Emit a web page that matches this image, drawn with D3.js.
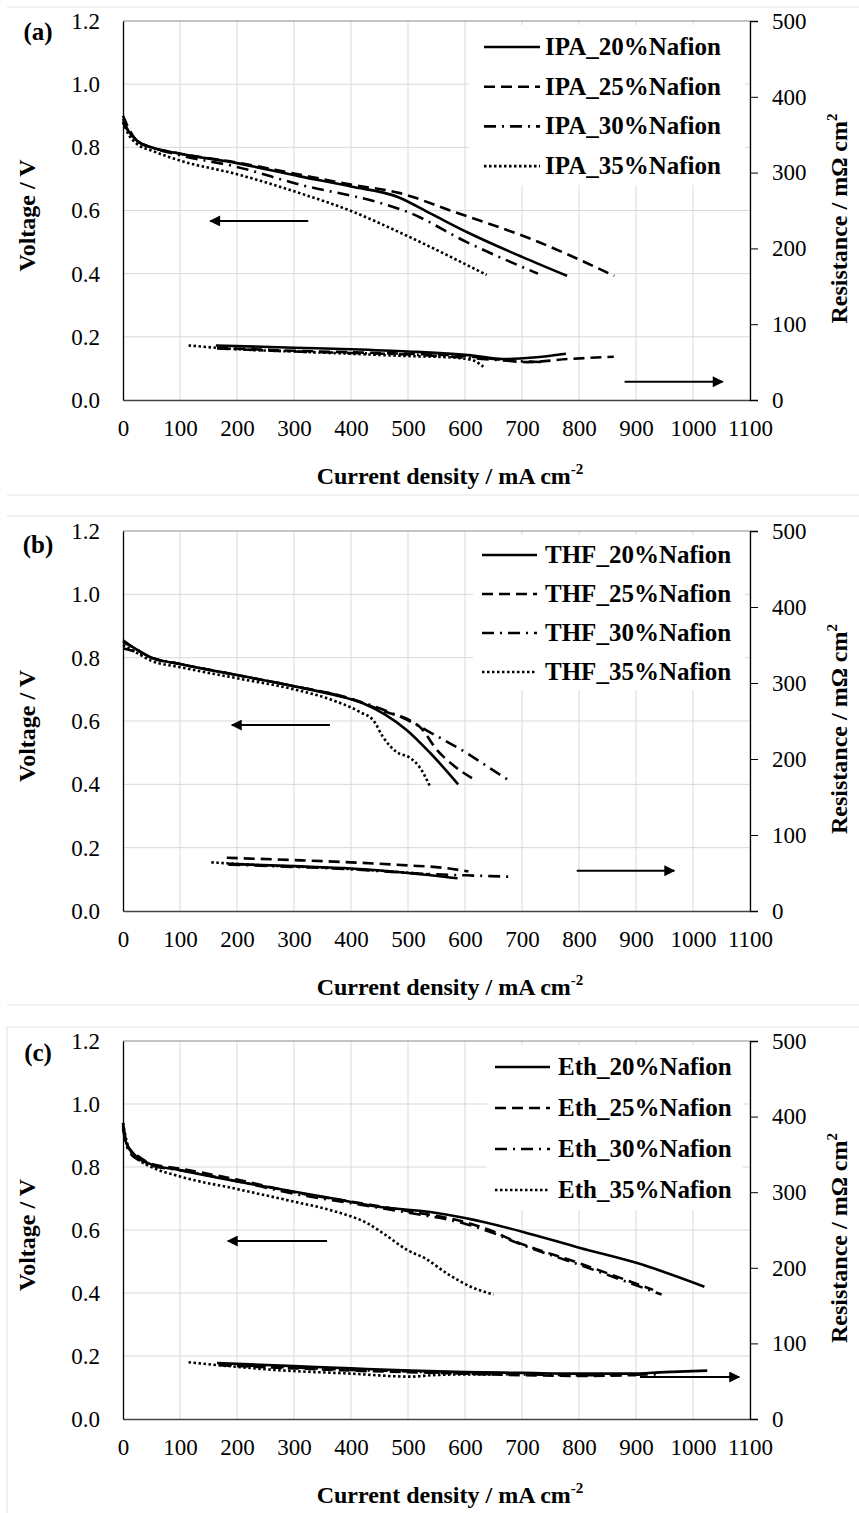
<!DOCTYPE html>
<html>
<head>
<meta charset="utf-8">
<script src="https://cdn.jsdelivr.net/npm/d3@7"></script>
<style>
  body { margin: 0; background: #fff; }
  svg { display: block; }
  text { font-family: "Liberation Serif", "Times New Roman", serif; fill: #000; }
</style>
</head>
<body>
<svg id="chart" width="859" height="1513"></svg>
<script>
// ---- tick labels ----
const xTicks = [0, 100, 200, 300, 400, 500, 600, 700, 800, 900, 1000, 1100];
const vTicks = [0, 0.2, 0.4, 0.6, 0.8, 1.0, 1.2];
const rTicks = [0, 100, 200, 300, 400, 500];
const nafionLevels = ["20%Nafion", "25%Nafion", "30%Nafion", "35%Nafion"];
const dashStyles = [null, "11,6", "12,6,2,6", "2.5,2.5"];

// ---- (a) IPA : voltage [mA cm-2, V] and resistance [mA cm-2, mOhm cm2] ----
const ipa20V = [[0,0.88],[10,0.85],[25,0.82],[50,0.80],[100,0.78],[200,0.75],[310,0.708],[400,0.676],[482,0.643],[540,0.59],[603,0.532],[700,0.453],[779,0.393]];
const ipa25V = [[0,0.90],[10,0.86],[25,0.82],[50,0.80],[100,0.78],[200,0.752],[300,0.717],[400,0.682],[486,0.655],[574,0.60],[720,0.507],[862,0.393]];
const ipa30V = [[0,0.89],[10,0.85],[25,0.82],[50,0.80],[100,0.775],[200,0.738],[310,0.682],[445,0.627],[500,0.595],[603,0.50],[728,0.40]];
const ipa35V = [[0,0.88],[10,0.84],[25,0.81],[50,0.79],[100,0.758],[200,0.715],[310,0.655],[398,0.60],[498,0.52],[638,0.396]];
const ipa20R = [[163,72],[300,69],[400,67],[500,64],[620,58],[665,54],[720,56],[777,61]];
const ipa25R = [[165,69],[300,65],[400,63],[500,61],[600,58],[650,54],[710,50],[780,54],[861,57]];
const ipa30R = [[165,68],[300,64],[400,62],[500,60],[600,56],[650,53],[700,51],[735,50]];
const ipa35R = [[115,72],[200,67],[300,64],[400,61],[500,58],[580,56],[615,52],[632,44]];

// ---- (b) THF ----
const thf20V = [[0,0.855],[20,0.83],[50,0.80],[100,0.78],[200,0.745],[300,0.71],[363,0.685],[421,0.656],[460,0.62],[498,0.571],[539,0.499],[588,0.40]];
const thf25V = [[0,0.85],[20,0.83],[50,0.80],[100,0.78],[200,0.745],[300,0.71],[400,0.67],[451,0.635],[521,0.581],[551,0.508],[579,0.461],[617,0.414]];
const thf30V = [[0,0.83],[20,0.82],[50,0.80],[100,0.78],[200,0.745],[300,0.71],[400,0.67],[450,0.64],[491,0.61],[547,0.556],[600,0.502],[649,0.445],[682,0.407]];
const thf35V = [[0,0.84],[20,0.82],[50,0.79],[100,0.77],[200,0.735],[300,0.70],[369,0.665],[416,0.628],[440,0.60],[456,0.55],[480,0.502],[504,0.483],[520,0.455],[539,0.392]];
const thf20R = [[185,62],[300,59],[400,56],[500,50],[587,43]];
const thf25R = [[182,70],[300,67],[400,64],[500,60],[560,57],[606,52]];
const thf30R = [[185,61],[300,58],[400,55],[500,50],[560,48],[600,47],[683,45]];
const thf35R = [[155,64],[250,60],[350,57],[450,53],[540,48]];

// ---- (c) Ethanol ----
const eth20V = [[0,0.94],[5,0.88],[15,0.85],[47,0.81],[100,0.79],[252,0.737],[369,0.70],[451,0.673],[539,0.657],[600,0.638],[702,0.594],[802,0.543],[902,0.495],[1020,0.42]];
const eth25V = [[0,0.93],[10,0.86],[30,0.83],[50,0.81],[100,0.795],[200,0.76],[300,0.72],[400,0.69],[500,0.66],[600,0.625],[650,0.595],[680,0.57],[800,0.495],[930,0.41]];
const eth30V = [[0,0.92],[10,0.85],[30,0.82],[50,0.805],[100,0.79],[200,0.755],[300,0.715],[400,0.685],[500,0.655],[600,0.62],[650,0.59],[690,0.56],[800,0.49],[945,0.395]];
const eth35V = [[0,0.94],[10,0.86],[30,0.82],[50,0.80],[100,0.77],[200,0.73],[300,0.69],[370,0.66],[430,0.62],[460,0.585],[500,0.535],[530,0.51],[570,0.46],[610,0.42],[650,0.395]];
const eth20R = [[165,74],[300,70],[400,67],[505,64],[600,62],[700,61],[800,60],[890,60],[950,62],[1025,64]];
const eth25R = [[170,71],[300,67],[400,64],[500,62],[600,60],[700,58],[800,57],[900,58]];
const eth30R = [[170,72],[300,68],[400,65],[500,63],[600,60],[700,59],[800,58],[940,59]];
const eth35R = [[115,75],[200,69],[264,65],[400,60],[505,56],[543,58],[600,59],[650,59]];

// ---- panel layout ----
const panels = [
  { tag: "(a)", solvent: "IPA", V: [ipa20V, ipa25V, ipa30V, ipa35V], R: [ipa20R, ipa25R, ipa30R, ipa35R],
    top: 21, bottom: 400, tagY: 40,
    leg: { box: [469, 25, 745, 185], s0: 484, s1: 540, tx: 545, y0: 47, step: 39.7 },
    arrowL: [325, 153, 0.567], arrowR: [880, 1052, 24] },
  { tag: "(b)", solvent: "THF", V: [thf20V, thf25V, thf30V, thf35V], R: [thf20R, thf25R, thf30R, thf35R],
    top: 531, bottom: 911, tagY: 553,
    leg: { box: [473, 535, 745, 690], s0: 482, s1: 537, tx: 545, y0: 555, step: 39 },
    arrowL: [363, 191, 0.587], arrowR: [796, 967, 53] },
  { tag: "(c)", solvent: "Eth", V: [eth20V, eth25V, eth30V, eth35V], R: [eth20R, eth25R, eth30R, eth35R],
    top: 1041, bottom: 1419, tagY: 1061,
    leg: { box: [487, 1045, 743, 1210], s0: 495, s1: 550, tx: 558, y0: 1067, step: 41 },
    arrowL: [358, 184, 0.565], arrowR: [907, 1081, 55.5] }
];

const plotLeft = 123, plotRight = 750;
const svg = d3.select("#chart");

// arrowhead marker
svg.append("defs").append("marker")
  .attr("id", "head")
  .attr("viewBox", "0 0 10 10")
  .attr("refX", 9).attr("refY", 5)
  .attr("markerWidth", 6).attr("markerHeight", 5.5)
  .attr("markerUnits", "strokeWidth")
  .attr("orient", "auto")
  .append("path")
    .attr("d", "M0,0 L10,5 L0,10 Z")
    .attr("fill", "#000");

// light chart-area frame lines
[7, 495, 516, 1005, 1027].forEach(y => {
  svg.append("line").attr("x1", 7).attr("x2", 859).attr("y1", y).attr("y2", y)
    .attr("stroke", "#e3e3e3").attr("stroke-width", 1);
});
svg.append("line").attr("x1", 7).attr("x2", 7).attr("y1", 1027).attr("y2", 1513)
  .attr("stroke", "#e3e3e3").attr("stroke-width", 1);

panels.forEach(p => {
  const x = d3.scaleLinear().domain([0, 1100]).range([plotLeft, plotRight]);
  const yV = d3.scaleLinear().domain([0, 1.2]).range([p.bottom, p.top]);
  const yR = d3.scaleLinear().domain([0, 500]).range([p.bottom, p.top]);
  const g = svg.append("g");

  // gridlines
  g.append("g").selectAll("line").data(xTicks.slice(1)).join("line")
    .attr("x1", d => x(d)).attr("x2", d => x(d))
    .attr("y1", p.top).attr("y2", p.bottom)
    .attr("stroke", "#d9d9d9").attr("stroke-width", 1);
  g.append("g").selectAll("line").data(vTicks.slice(1, -1)).join("line")
    .attr("x1", plotLeft).attr("x2", plotRight)
    .attr("y1", d => yV(d)).attr("y2", d => yV(d))
    .attr("stroke", "#d9d9d9").attr("stroke-width", 1);
  // top border
  g.append("line").attr("x1", plotLeft).attr("x2", plotRight)
    .attr("y1", p.top).attr("y2", p.top)
    .attr("stroke", "#8c8c8c").attr("stroke-width", 1.2);

  // axes
  const axisB = g.append("g").attr("transform", `translate(0,${p.bottom})`)
    .call(d3.axisBottom(x).tickValues(xTicks).tickSize(0).tickPadding(20).tickFormat(d3.format("d")));
  const axisL = g.append("g").attr("transform", `translate(${plotLeft},0)`)
    .call(d3.axisLeft(yV).tickValues(vTicks).tickSize(0).tickPadding(23).tickFormat(d3.format(".1f")));
  const axisR = g.append("g").attr("transform", `translate(${plotRight},0)`)
    .call(d3.axisRight(yR).tickValues(rTicks).tickSize(8).tickPadding(14).tickFormat(d3.format("d")));
  [axisB, axisL, axisR].forEach(a => {
    a.select(".domain").attr("stroke", "#000").attr("stroke-width", 1.3);
    a.selectAll(".tick line").attr("stroke", "#000").attr("stroke-width", 1);
    a.selectAll("text").attr("font-size", 23).attr("font-family", "Liberation Serif, serif").attr("fill", "#000");
  });
  axisB.select(".domain").attr("stroke", "#444").attr("stroke-width", 1.6);

  // legend box
  const lb = p.leg.box;
  g.append("rect").attr("x", lb[0]).attr("y", lb[1])
    .attr("width", lb[2] - lb[0]).attr("height", lb[3] - lb[1]).attr("fill", "#fff");

  const lineGen = d3.line().x(d => x(d[0])).curve(d3.curveMonotoneX);

  // voltage curves
  p.V.forEach((series, i) => {
    g.append("path").datum(series)
      .attr("d", lineGen.y(d => yV(d[1])))
      .attr("fill", "none").attr("stroke", "#000").attr("stroke-width", 2.6)
      .attr("stroke-dasharray", dashStyles[i]);
  });
  // resistance curves
  p.R.forEach((series, i) => {
    g.append("path").datum(series)
      .attr("d", lineGen.y(d => yR(d[1])))
      .attr("fill", "none").attr("stroke", "#000").attr("stroke-width", 2.6)
      .attr("stroke-dasharray", dashStyles[i]);
  });

  // legend entries
  nafionLevels.forEach((lvl, i) => {
    const cy = p.leg.y0 + i * p.leg.step;
    g.append("line").attr("x1", p.leg.s0).attr("x2", p.leg.s1).attr("y1", cy).attr("y2", cy)
      .attr("stroke", "#000").attr("stroke-width", 2.6).attr("stroke-dasharray", dashStyles[i]);
    g.append("text").attr("x", p.leg.tx).attr("y", cy + 8)
      .attr("font-size", 25).attr("font-weight", "bold")
      .text(`${p.solvent}_${lvl}`);
  });

  // arrows pointing to the matching axis
  g.append("line")
    .attr("x1", x(p.arrowL[0])).attr("x2", x(p.arrowL[1]))
    .attr("y1", yV(p.arrowL[2])).attr("y2", yV(p.arrowL[2]))
    .attr("stroke", "#000").attr("stroke-width", 2).attr("marker-end", "url(#head)");
  g.append("line")
    .attr("x1", x(p.arrowR[0])).attr("x2", x(p.arrowR[1]))
    .attr("y1", yR(p.arrowR[2])).attr("y2", yR(p.arrowR[2]))
    .attr("stroke", "#000").attr("stroke-width", 2).attr("marker-end", "url(#head)");

  // panel tag
  g.append("text").attr("x", 38).attr("y", p.tagY).attr("text-anchor", "middle")
    .attr("font-size", 25).attr("font-weight", "bold").text(p.tag);

  // axis titles
  const mid = (p.top + p.bottom) / 2;
  const xt = g.append("text").attr("x", 450).attr("y", p.bottom + 84)
    .attr("text-anchor", "middle").attr("font-size", 24).attr("font-weight", "bold");
  xt.append("tspan").text("Current density / mA cm");
  xt.append("tspan").attr("font-size", 15).attr("dy", -10).text("-2");

  g.append("text").attr("transform", `translate(35,${mid + 5}) rotate(-90)`)
    .attr("text-anchor", "middle").attr("font-size", 24).attr("font-weight", "bold")
    .text("Voltage / V");

  const rt = g.append("text").attr("transform", `translate(847,${mid + 8}) rotate(-90)`)
    .attr("text-anchor", "middle").attr("font-size", 24).attr("font-weight", "bold");
  rt.append("tspan").text("Resistance / m\u03A9 cm");
  rt.append("tspan").attr("font-size", 15).attr("dy", -10).text("2");
});
</script>
</body>
</html>
